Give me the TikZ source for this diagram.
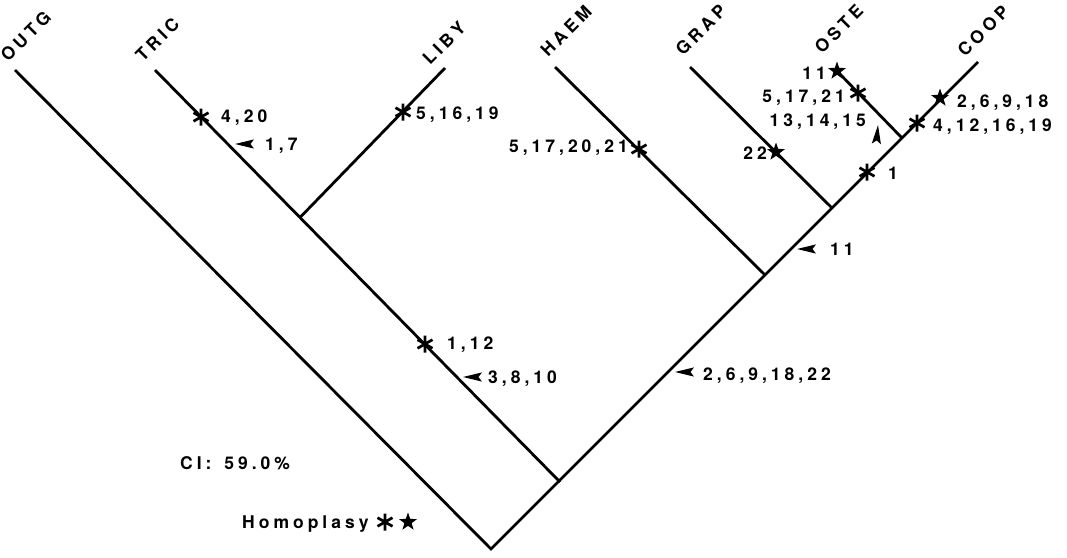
\documentclass[tikz,border=0pt]{standalone}
\usepackage{fontspec}
\setmainfont{TeX Gyre Heros}
\usetikzlibrary{shapes.geometric}
\newlength\trackamt
\setlength\trackamt{4pt}
\makeatletter
\def\trk@end{\trk@end@}
\def\trk@i#1{\ifx#1\trk@end\else#1\kern\trackamt\relax\expandafter\trk@i\fi}
\newcommand\trk[1]{\trk@i#1\trk@end\unkern}
\makeatother
\tikzset{
  asterisk/.pic={\draw[line width=2.7pt] (0,-8.5) -- (0,8.5) (-7.5,-4.3) -- (7.5,4.3) (-7.5,4.3) -- (7.5,-4.3);},
  larrow/.pic={\fill (0,0) -- (19,-4.6) -- (15.5,0) -- (19,4.6) -- cycle;},
  branch/.style={line width=2.8pt, line join=miter},
  lab/.style={font=\fontsize{17.5}{20}\selectfont\bfseries, inner sep=0pt, anchor=base west},
  labr/.style={lab, anchor=base east},
  taxon/.style={lab, rotate=45},
  starmark/.style={star, star points=5, star point ratio=2.5, fill=black, draw=none, inner sep=0pt, minimum size=19pt},
}
\begin{document}
\begin{tikzpicture}[x=1pt,y=-1pt]
\useasboundingbox[fill=white] (0,0) rectangle (1067,557);
% tree nodes
\coordinate (root) at (491,549);
\coordinate (outg) at (15,70);
\coordinate (j1) at (560,482);
\coordinate (tric) at (155,70);
\coordinate (tl) at (300,217.5);
\coordinate (liby) at (445,68);
\coordinate (hn) at (765,275);
\coordinate (haem) at (555,67);
\coordinate (gn) at (832,208);
\coordinate (grap) at (690,67);
\coordinate (on) at (902,138);
\coordinate (oste) at (836,70);
\coordinate (coop) at (978,62);
% branches
\draw[branch] (outg) -- (root) -- (coop);
\draw[branch] (j1) -- (tric);
\draw[branch] (tl) -- (liby);
\draw[branch] (hn) -- (haem);
\draw[branch] (gn) -- (grap);
\draw[branch] (on) -- (oste);
% taxon labels
\node[taxon] (toutg) at (8,63) {\trk{OUTG}};
\node[taxon] (ttric) at (143,63) {\trk{TRIC}};
\node[taxon] (tliby) at (430,66) {\trk{LIBY}};
\node[taxon] (thaem) at (548,58) {\trk{HAEM}};
\node[taxon] (tgrap) at (683,57) {\trk{GRAP}};
\node[taxon] (toste) at (822,55) {\trk{OSTE}};
\node[taxon] (tcoop) at (965,58) {\trk{COOP}};
% asterisks
\pic (a1) at (201,117) {asterisk};
\pic (a2) at (403,112) {asterisk};
\pic (a3) at (639,149) {asterisk};
\pic (a4) at (858,93) {asterisk};
\pic (a5) at (867,172) {asterisk};
\pic (a6) at (917,123) {asterisk};
\pic (a7) at (425,344) {asterisk};
\pic (a8) at (385,522) {asterisk};
% stars
\node[starmark] (s1) at (837,71) {};
\node[starmark] (s2) at (776,152) {};
\node[starmark] (s3) at (940,98) {};
\node[starmark] (s4) at (408,522) {};
% arrowheads
\pic (r1) at (235,144) {larrow};
\pic (r2) at (797,249) {larrow};
\pic (r3) at (463,377) {larrow};
\pic (r4) at (675,372) {larrow};
\pic[rotate=-95] (r5) at (878,125) {larrow};
% character labels
\node[lab] (l1) at (221,122) {\trk{4,20}};
\node[lab] (l2) at (265,150.5) {\trk{1,7}};
\node[lab] (l3) at (416,119) {\trk{5,16,19}};
\node[labr] (l4) at (628,152.5) {\trk{5,17,20,21}};
\node[labr] (l5) at (767,159) {\trk{22}};
\node[labr] (l6) at (826,79.5) {\trk{11}};
\node[labr] (l7) at (845,102.5) {\trk{5,17,21}};
\node[labr] (l8) at (866,126.5) {\trk{13,14,15}};
\node[lab] (l9) at (888,179.5) {\trk{1}};
\node[lab] (l10) at (933,131.5) {\trk{4,12,16,19}};
\node[lab] (l11) at (957,107.5) {\trk{2,6,9,18}};
\node[lab] (l12) at (830,255.5) {\trk{11}};
\node[lab] (l13) at (447,349.5) {\trk{1,12}};
\node[lab] (l14) at (488,383.5) {\trk{3,8,10}};
\node[lab] (l15) at (703,380.5) {\trk{2,6,9,18,22}};
\node[lab] (ci) at (180,469.5) {\trk{CI:~59.0\%}};
\node[lab] (homo) at (242,528.5) {\trk{Homoplasy}};
\end{tikzpicture}
\end{document}
